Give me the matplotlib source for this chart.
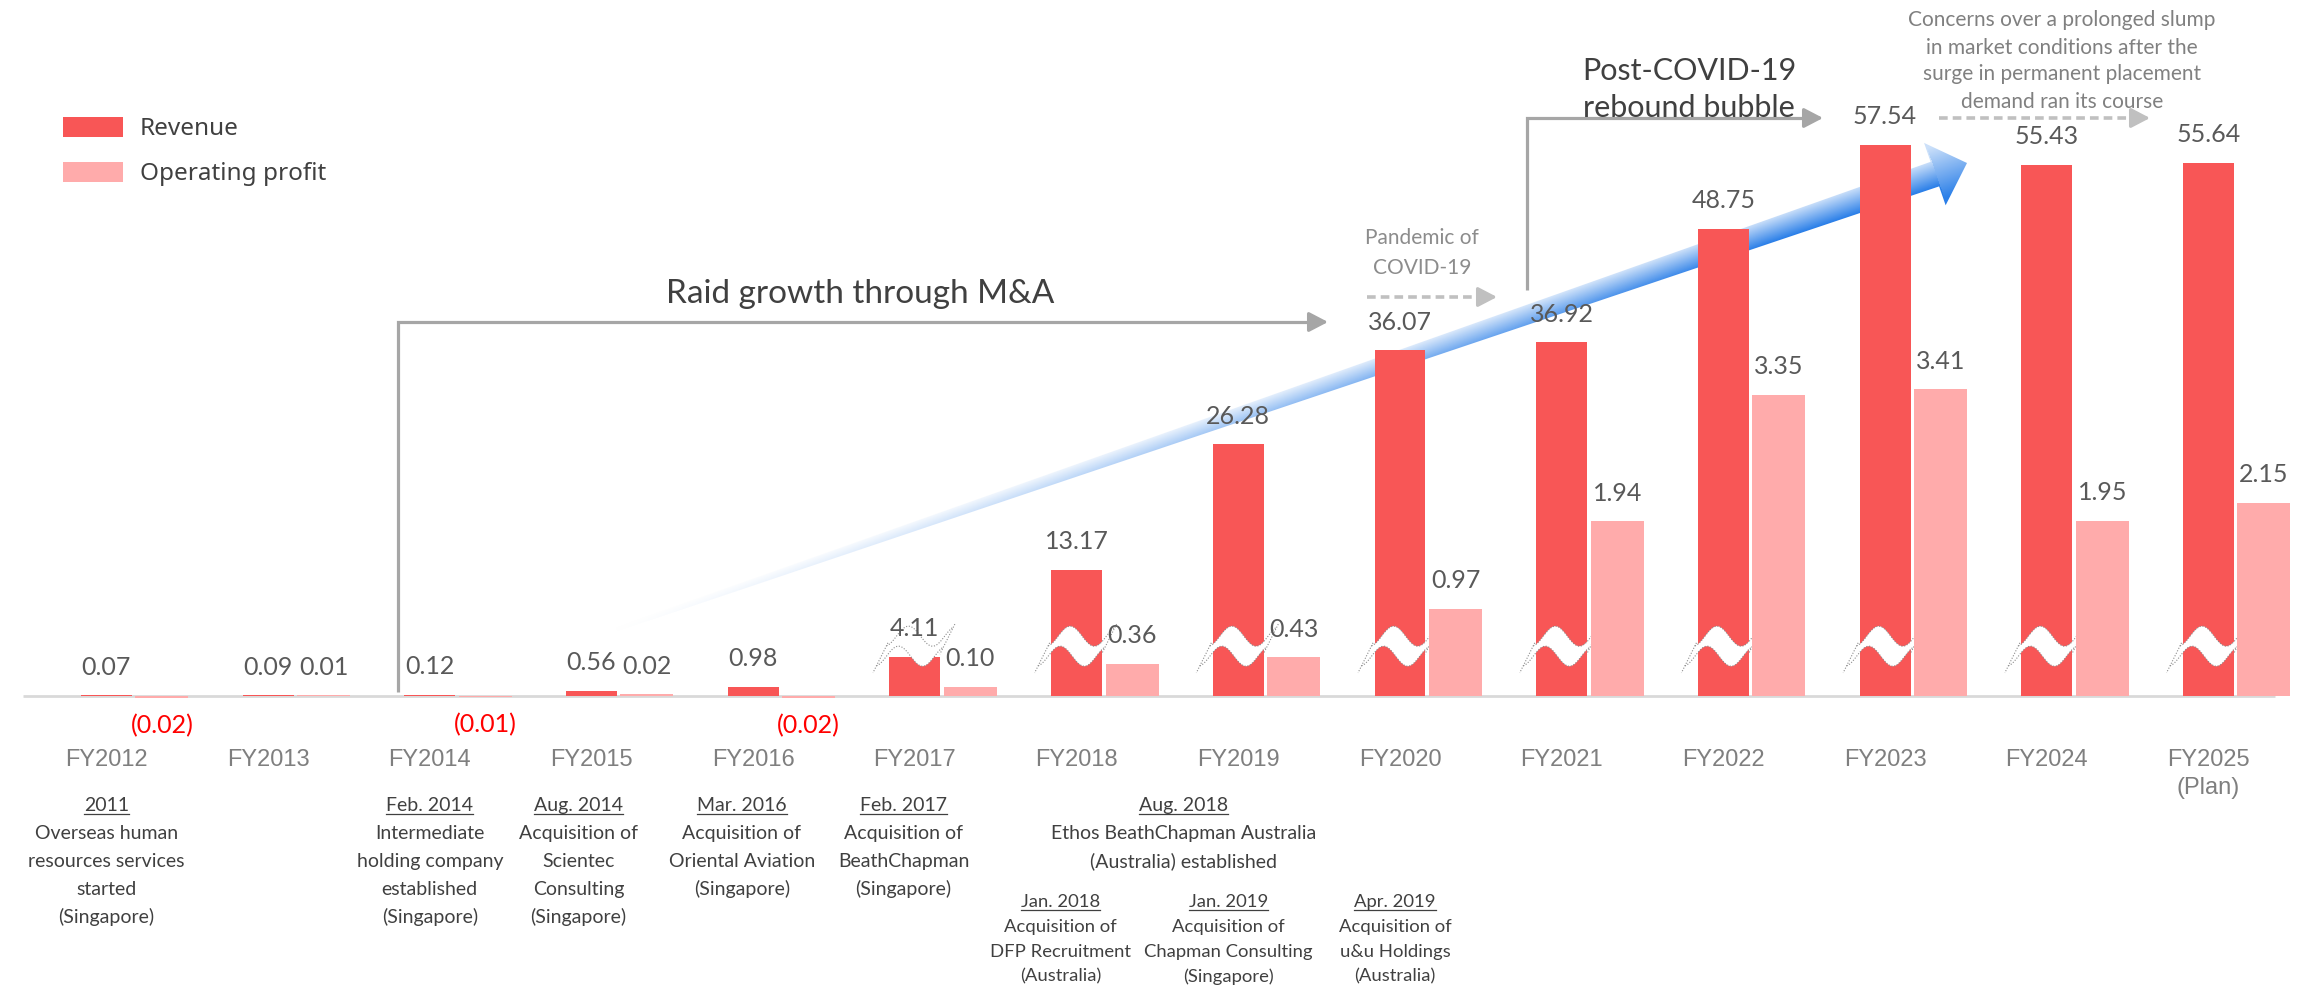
import numpy as np
import matplotlib
matplotlib.use("Agg")
import matplotlib.pyplot as plt
from matplotlib.patches import Polygon

# ------------------------------------------------------------------ data
fiscal_years = ["FY2012", "FY2013", "FY2014", "FY2015", "FY2016", "FY2017", "FY2018",
                "FY2019", "FY2020", "FY2021", "FY2022", "FY2023", "FY2024", "FY2025\n(Plan)"]
revenue = [0.07, 0.09, 0.12, 0.56, 0.98, 4.11, 13.17, 26.28, 36.07, 36.92, 48.75, 57.54, 55.43, 55.64]
operating_profit = [-0.02, 0.01, -0.01, 0.02, -0.02, 0.10, 0.36, 0.43, 0.97, 1.94, 3.35, 3.41, 1.95, 2.15]
series_names = ["Revenue", "Operating profit"]
break_from = "FY2017"          # revenue bars from this year on carry a scale-break mark

event_dates = ["2011", "Feb. 2014", "Aug. 2014", "Mar. 2016", "Feb. 2017", "Aug. 2018",
               "Jan. 2018", "Jan. 2019", "Apr. 2019"]
event_texts = [
    ["Overseas human", "resources services", "started", "(Singapore)"],
    ["Intermediate", "holding company", "established", "(Singapore)"],
    ["Acquisition of", "Scientec", "Consulting", "(Singapore)"],
    ["Acquisition of", "Oriental Aviation", "(Singapore)"],
    ["Acquisition of", "BeathChapman", "(Singapore)"],
    ["Ethos BeathChapman Australia", "(Australia) established"],
    ["Acquisition of", "DFP Recruitment", "(Australia)"],
    ["Acquisition of", "Chapman Consulting", "(Singapore)"],
    ["Acquisition of", "u&u Holdings", "(Australia)"],
]
# where each event note sits: (category position, row)
event_anchor = [(0.0, 0), (2.0, 0), (2.92, 0), (3.93, 0), (4.93, 0), (6.66, 0),
                (5.90, 1), (6.94, 1), (7.97, 1)]

# ------------------------------------------------------------------ style
W, H, DPI = 2313, 992, 100
BASE_PX = 696                 # baseline, pixels from top
REV_PX = 9.58                 # pixels per unit of revenue
OP_PX = 90.0                  # pixels per unit of operating profit
X0_PX, STEP_PX = 106.4, 161.7

REV_C = "#F85656"
OP_C = "#FFABAB"
DARK = "#404040"
VAL_C = "#595959"
TICK_C = "#7F7F7F"
ARROW_C = "#A6A6A6"
DASH_C = "#C0C0C0"
NEG_C = "#FF0000"
BODY = ["Lato", "DejaVu Sans"]
SANS = ["Liberation Sans", "DejaVu Sans"]
LEG = ["Noto Sans", "DejaVu Sans"]

fig = plt.figure(figsize=(W / DPI, H / DPI), dpi=DPI, facecolor="white")
ax = fig.add_axes([0, 0, 1, 1])
ax2 = ax.twinx()
ax2.set_position([0, 0, 1, 1])
ov = fig.add_axes([0, 0, 1, 1], zorder=10)

ax.set_xlim(-X0_PX / STEP_PX, (W - X0_PX) / STEP_PX)
ax.set_ylim(-(H - BASE_PX) / REV_PX, BASE_PX / REV_PX)
ax2.set_ylim(-(H - BASE_PX) / OP_PX, BASE_PX / OP_PX)
ov.set_xlim(0, W)
ov.set_ylim(H, 0)
for a in (ax, ax2, ov):
    a.set_autoscale_on(False)
    a.axis("off")
ov.patch.set_alpha(0)


def fx(px):
    return (px - X0_PX) / STEP_PX


# ------------------------------------------------------------------ bars
x = np.arange(len(fiscal_years))
REV_W, OP_W, OP_SHIFT = 0.315, 0.328, 0.343
rev_bars = ax.bar(x, revenue, REV_W, color=REV_C, zorder=3, label=series_names[0])
op_bars = ax2.bar(x + OP_SHIFT, operating_profit, OP_W, color=OP_C, zorder=3,
                  label=series_names[1])
ax.plot([fx(23), fx(2275)], [0, 0], color="#D9D9D9", lw=2.0, zorder=2,
        solid_capstyle="butt")


# ------------------------------------------------------------------ growth arrow
def growth_arrow(axis, tail, tip, w_tail=2.0, w_neck=13.0, head_len=34.0, head_half=33.0):
    T = axis.transData
    p0 = T.transform(tail)
    p1 = T.transform(tip)
    d = p1 - p0
    L = np.hypot(*d)
    u = d / L
    n = np.array([-u[1], u[0]])
    base = p1 - u * head_len
    pts = np.array([p0 + n * w_tail, base + n * w_neck, base + n * head_half, p1,
                    base - n * head_half, base - n * w_neck, p0 - n * w_tail])
    xmin, ymin = np.floor(pts.min(0))
    xmax, ymax = np.ceil(pts.max(0))
    X, Y = np.meshgrid(np.arange(xmin, xmax) + 0.5, np.arange(ymax, ymin, -1) - 0.5)
    rx, ry = X - p0[0], Y - p0[1]
    t = (rx * u[0] + ry * u[1]) / L
    s = rx * n[0] + ry * n[1]
    te = (L - head_len) / L
    wloc = np.where(t < te, w_tail + (w_neck - w_tail) * np.clip(t / te, 0, 1), head_half * 0.8)
    frac = np.clip(0.5 - s / (2 * wloc), 0, 1)[..., None]
    light = np.array([0.80, 0.88, 0.98])
    dark = np.array([0.17, 0.50, 0.91])
    rgb = light * (1 - frac) + dark * frac
    alpha = np.clip(t / 0.85, 0, 1) ** 1.3
    img = np.dstack([rgb, alpha])
    inv = T.inverted()
    dx0, dy0 = inv.transform((xmin, ymin))
    dx1, dy1 = inv.transform((xmax, ymax))
    im = axis.imshow(img, extent=(dx0, dx1, dy0, dy1), origin="upper", aspect="auto",
                     interpolation="bilinear", zorder=2.5)
    im.set_clip_path(Polygon(inv.transform(pts), closed=True, transform=T))


growth_arrow(ax, (fx(600), (BASE_PX - 635) / REV_PX), (fx(1967), (BASE_PX - 163) / REV_PX))


# ------------------------------------------------------------------ scale-break marks
def break_mark(axis, xc, yc, bar_w, amp=10.0, thick=20.0, shear=5.0):
    T = axis.transData
    Xc, Yc = T.transform((xc, yc))
    half = T.transform((xc + bar_w / 2, yc))[0] - Xc + 8
    uu = np.linspace(0, 1, 90)
    X = Xc - half + 2 * half * uu
    Yu = Yc + amp - amp * np.cos(2 * np.pi * (uu + 0.03) / 0.72)
    upper = np.column_stack([X + shear, Yu])
    lower = np.column_stack([X - shear, Yu - thick])
    inv = T.inverted()
    shape = inv.transform(np.vstack([upper, lower[::-1]]))
    axis.add_patch(Polygon(shape, closed=True, facecolor="white", edgecolor="none", zorder=4))
    for edge in (upper, lower):
        e = inv.transform(edge)
        axis.plot(e[:, 0], e[:, 1], color="#8C8C8C", lw=0.8, ls=(0, (1, 1.5)), zorder=4.1)
    for a_, b_ in ((upper[0], lower[0]), (upper[-1], lower[-1])):
        e = inv.transform(np.array([a_ + (a_ - b_) * 0.15, b_ - (a_ - b_) * 0.35]))
        axis.plot(e[:, 0], e[:, 1], color="#8C8C8C", lw=0.8, ls=(0, (1, 1.5)), zorder=4.1)


start = fiscal_years.index(break_from)
for i in range(start, len(fiscal_years)):
    break_mark(ax, x[i], 5.2, REV_W)

# ------------------------------------------------------------------ value labels
LBL_OFF = 28


def value_label(trans, xpos, v):
    neg = v < 0
    txt = f"({abs(v):.2f})" if neg else f"{v:.2f}"
    ov.annotate(txt, (xpos, v), xycoords=trans, xytext=(0, -LBL_OFF if neg else LBL_OFF),
                textcoords="offset pixels", ha="center", va="center",
                color=NEG_C if neg else VAL_C, fontsize=18, family=BODY)


for i in range(len(x)):
    value_label(ax.transData, x[i], revenue[i])
    value_label(ax2.transData, x[i] + OP_SHIFT, operating_profit[i])

# ------------------------------------------------------------------ category labels
for i, lab in enumerate(fiscal_years):
    xp = X0_PX + STEP_PX * x[i]
    for k, line in enumerate(lab.split("\n")):
        ov.text(xp, 766 + 28 * k, line, ha="center", va="baseline", fontsize=17,
                color=TICK_C, family=SANS)


# ------------------------------------------------------------------ notes
def stacked(xp, first_center, lines, step, size, color, family):
    cap = 0.72 * size * DPI / 72
    out = []
    for k, line in enumerate(lines):
        out.append(ov.text(xp, first_center + cap / 2 + k * step, line, ha="center",
                           va="baseline", fontsize=size, color=color, family=family))
    return out


row_top = [804, 900]
row_step = [28, 25]
row_size = [14, 13.3]
date_texts = []
for (cx, row), date, body in zip(event_anchor, event_dates, event_texts):
    xp = X0_PX + STEP_PX * cx
    ts = stacked(xp, row_top[row], [date] + body, row_step[row], row_size[row], DARK, BODY)
    date_texts.append((ts[0], row_top[row] + 0.72 * row_size[row] * DPI / 72 / 2))

# headline annotations
stacked(860, 291, ["Raid growth through M&A"], 37, 24, DARK, BODY)
stacked(1689, 69, ["Post-COVID-19", "rebound bubble"], 37, 22, DARK, BODY)
stacked(1422, 236, ["Pandemic of", "COVID-19"], 31, 15, "#8C8C8C", BODY)
stacked(2062, 19, ["Concerns over a prolonged slump", "in market conditions after the",
                   "surge in permanent placement", "demand ran its course"], 27, 15,
        "#808080", BODY)


def arrow_head(xt, yt, color):
    ov.annotate("", xy=(xt, yt), xytext=(xt - 18, yt),
                arrowprops=dict(arrowstyle="-|>,head_length=1.15,head_width=0.6",
                                color=color, lw=2.3, shrinkA=0, shrinkB=0,
                                mutation_scale=10))


def elbow_arrow(xv, y_bottom, y_top, x_tip):
    ov.plot([xv, xv, x_tip - 10], [y_bottom, y_top, y_top], color=ARROW_C, lw=2.3,
            solid_joinstyle="miter", solid_capstyle="butt")
    arrow_head(x_tip, y_top, ARROW_C)


def dashed_arrow(x_start, x_tip, y):
    ov.plot([x_start, x_tip - 14], [y, y], color=DASH_C, lw=2.6, ls=(0, (2.4, 1.4)),
            solid_capstyle="butt")
    arrow_head(x_tip, y, DASH_C)


elbow_arrow(398, 692, 322, 1328)
elbow_arrow(1527, 290, 118, 1823)
dashed_arrow(1367, 1497, 297)
dashed_arrow(1939, 2150, 118)

# ------------------------------------------------------------------ legend
ov.legend(handles=[rev_bars, op_bars], labels=series_names, loc="upper left",
          bbox_to_anchor=(63 / W, 1 - 117 / H), bbox_transform=fig.transFigure,
          frameon=False, prop={"family": LEG, "size": 17.5}, labelcolor=DARK,
          handlelength=2.45, handleheight=0.87, handletextpad=0.7, labelspacing=0.85,
          borderpad=0, borderaxespad=0)

# underline the dates of the event notes
fig.canvas.draw()
renderer = fig.canvas.get_renderer()
for t, base in date_texts:
    bb = t.get_window_extent(renderer)
    ov.plot([bb.x0, bb.x1], [base + 3, base + 3], color=DARK, lw=0.9)

fig.savefig("out.png", dpi=DPI, facecolor="white")
